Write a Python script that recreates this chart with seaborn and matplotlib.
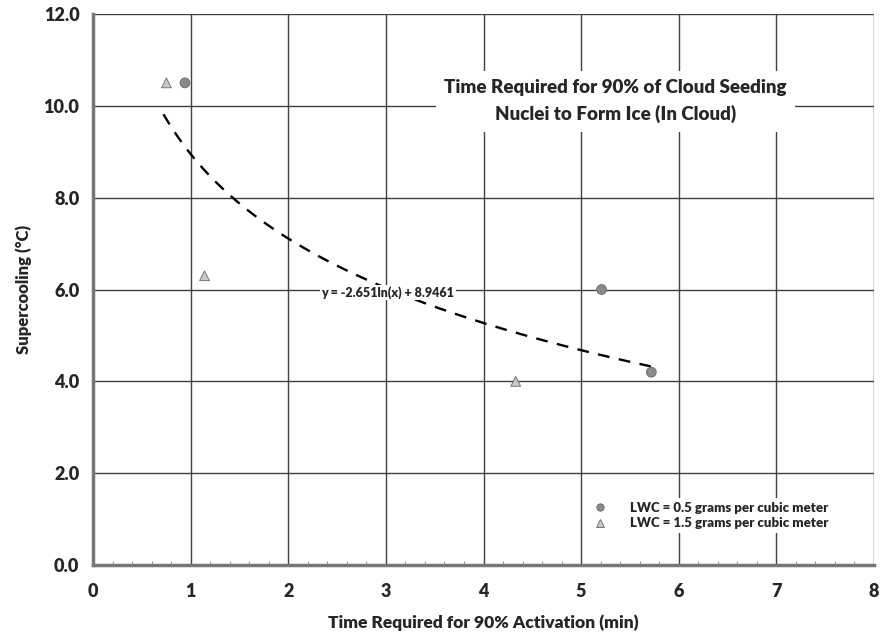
import numpy as np
import pandas as pd
import matplotlib
matplotlib.use("Agg")
import matplotlib.pyplot as plt
import seaborn as sns
from matplotlib.ticker import MultipleLocator

# data
lwc_05_time = [0.94, 5.21, 5.72]
lwc_05_cool = [10.5, 6.0, 4.2]
lwc_15_time = [0.75, 1.14, 4.33]
lwc_15_cool = [10.5, 6.3, 4.0]
labels = ["LWC = 0.5 grams per cubic meter", "LWC = 1.5 grams per cubic meter"]

# log trendline given on the chart
fit_a, fit_b = -2.651, 8.9461
fit_xmin, fit_xmax = 0.72, 5.72

df = pd.DataFrame({
    "time": lwc_05_time + lwc_15_time,
    "cool": lwc_05_cool + lwc_15_cool,
    "series": [labels[0]] * len(lwc_05_time) + [labels[1]] * len(lwc_15_time),
})

sns.set_style("white")
plt.rcParams["font.family"] = ["Lato", "DejaVu Sans"]
plt.rcParams["font.weight"] = "bold"

fig = plt.figure(figsize=(8.88, 6.37), dpi=100)
ax = fig.add_axes([0.105, 0.113, 0.879, 0.865])

ax.grid(True, color="#404040", linewidth=1.0, linestyle="-")
ax.set_axisbelow(True)

xs = np.linspace(fit_xmin, fit_xmax, 200)
ax.plot(xs, fit_a * np.log(xs) + fit_b, color="black", linestyle=(0, (5, 4)), linewidth=1.7)

sns.scatterplot(data=df, x="time", y="cool", hue="series", style="series",
                palette={labels[0]: "#8a8a8a", labels[1]: "#c8c8c8"},
                markers={labels[0]: "o", labels[1]: "^"},
                edgecolor="#666666", linewidth=0.6, s=50, ax=ax, zorder=3)

ax.set_xlim(0, 8)
ax.set_ylim(0, 12)
ax.xaxis.set_major_locator(MultipleLocator(1))
ax.xaxis.set_minor_locator(MultipleLocator(0.2))
ax.yaxis.set_major_locator(MultipleLocator(2))
ax.set_yticklabels([f"{v:.1f}" for v in ax.get_yticks()])
ax.tick_params(axis="both", which="major", labelsize=13, length=0)
ax.tick_params(axis="x", which="major", pad=13)
ax.tick_params(axis="y", which="major", pad=10)
ax.tick_params(axis="x", which="minor", direction="in", length=3, color="#888888", bottom=True)
for lab in ax.get_xticklabels() + ax.get_yticklabels():
    lab.set_fontweight("heavy")

for side in ["top", "right"]:
    ax.spines[side].set_visible(False)
for side in ["left", "bottom"]:
    ax.spines[side].set_color("#777777")
    ax.spines[side].set_linewidth(2.5)

ax.set_xlabel("Time Required for 90% Activation (min)", fontsize=12.5, fontweight="heavy", labelpad=10)
ax.set_ylabel("Supercooling (°C)", fontsize=12, fontweight="heavy", labelpad=8)

ax.text(5.35, 10.1, "Time Required for 90% of Cloud Seeding\nNuclei to Form Ice (In Cloud)",
        ha="center", va="center", fontsize=13.5, fontweight="heavy", linespacing=1.6,
        bbox=dict(facecolor="white", edgecolor="none", pad=6), zorder=4)
ax.text(3.02, 5.93, "y = -2.651ln(x) + 8.9461", ha="center", va="center",
        fontsize=9, fontweight="heavy", bbox=dict(facecolor="white", edgecolor="none", pad=1))

leg = ax.legend(loc="lower left", bbox_to_anchor=(4.95, 0.55), bbox_transform=ax.transData,
                frameon=True, fontsize=9.5, markerscale=0.75, handletextpad=1.3,
                borderpad=0.3, labelspacing=0.25)
leg.get_frame().set_facecolor("white")
leg.get_frame().set_edgecolor("none")
leg.get_frame().set_alpha(1)
for t in leg.get_texts():
    t.set_fontweight("heavy")

fig.savefig("out.png", dpi=100)
